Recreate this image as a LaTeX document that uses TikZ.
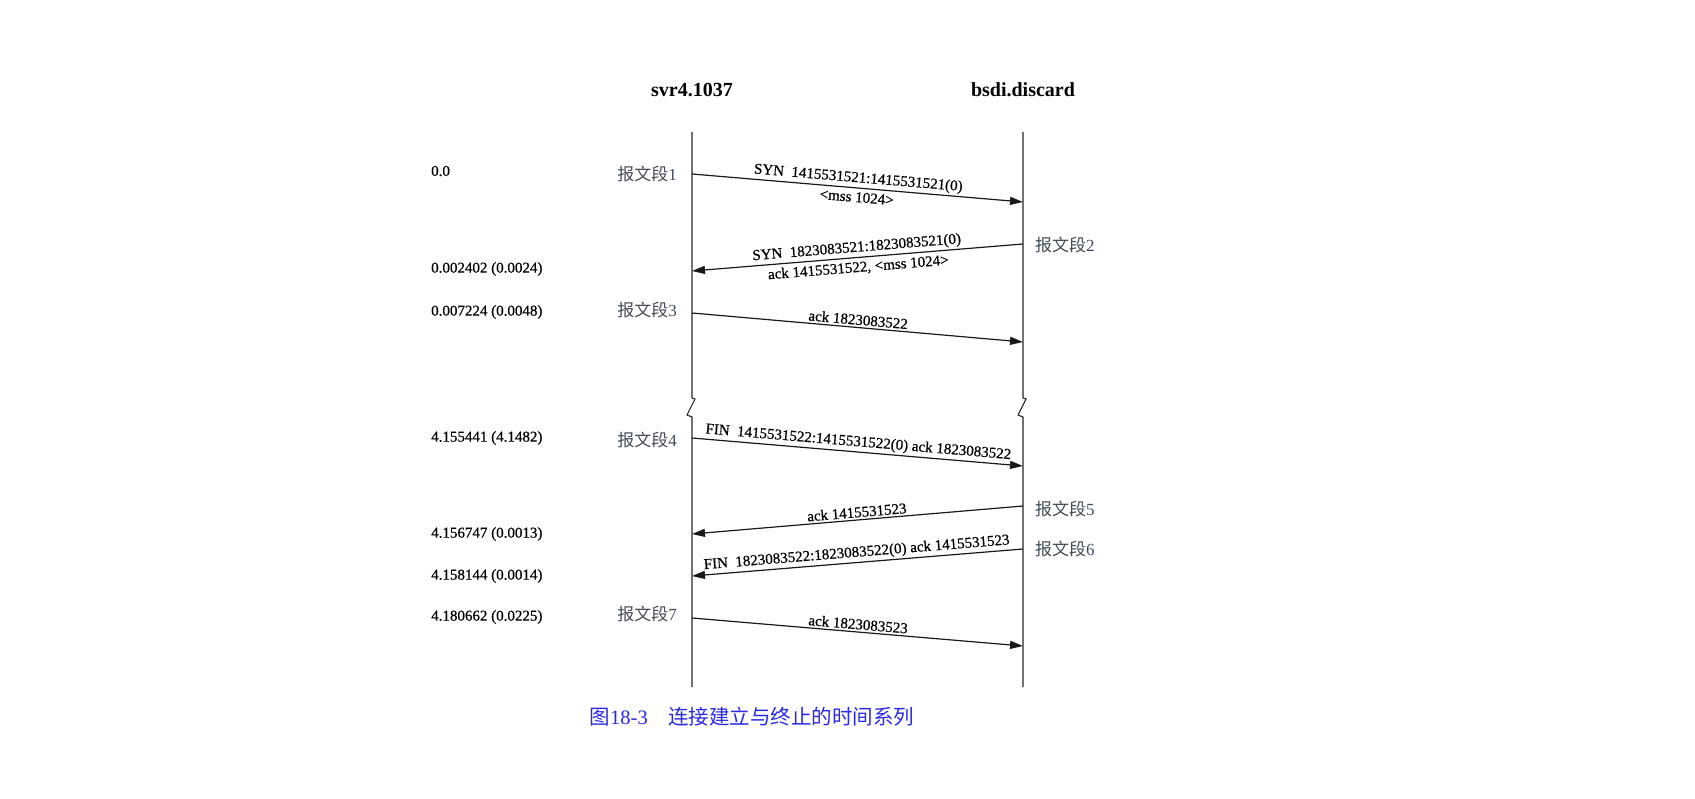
\documentclass[tikz,border=0pt]{standalone}
\usepackage{fontspec}
\setmainfont{Liberation Serif}
\newfontfamily\scanfont{Liberation Serif}[FakeBold=0.6]
\newfontfamily\cjk{Noto Sans CJK SC}
\usetikzlibrary{arrows.meta}
\definecolor{segc}{RGB}{66,74,88}
\definecolor{capc}{RGB}{40,40,235}

\begin{document}
\begin{tikzpicture}[
    x=1pt, y=-1pt,
    font=\fontsize{15}{17}\selectfont\scanfont,
    >={Triangle[length=13pt,width=8pt]},
    host/.style={font=\fontsize{20}{22}\selectfont\rmfamily\bfseries, inner sep=0pt},
    tstamp/.style={anchor=west, inner sep=0pt},
    seg/.style={font=\fontsize{17}{19}\selectfont\rmfamily, text=segc, inner sep=0pt},
    life/.style={line width=1.1pt, draw=black!85},
    msg/.style={->, line width=1.2pt, draw=black!90},
    mlbl/.style={sloped, inner sep=2pt},
    mlblb/.style={sloped, inner sep=3.5pt},
]
\useasboundingbox (0,0) rectangle (1695,799);

% ---- Hosts and lifelines -------------------------------------------
\node[host] (svr)  at (692,90)  {svr4.1037};
\node[host] (bsdi) at (1023,90) {bsdi.discard};

\coordinate (svrtop)  at (692,132);
\coordinate (svrbot)  at (692,687);
\coordinate (bsditop) at (1023,132);
\coordinate (bsdibot) at (1023,687);

\draw[life] (svrtop) -- ++(0,266) -- ++(3,1) -- ++(-8,16) -- ++(5,2) -- (svrbot);
\draw[life] (bsditop) -- ++(0,266) -- ++(3,1) -- ++(-8,16) -- ++(5,2) -- (bsdibot);

% ---- Time stamps ---------------------------------------------------
\node[tstamp] (t1) at (431,171) {0.0};
\node[tstamp] (t2) at (431,269) {0.002402 (0.0024)};
\node[tstamp] (t3) at (431,312) {0.007224 (0.0048)};
\node[tstamp] (t4) at (431,438) {4.155441 (4.1482)};
\node[tstamp] (t5) at (431,534) {4.156747 (0.0013)};
\node[tstamp] (t6) at (431,576) {4.158144 (0.0014)};
\node[tstamp] (t7) at (431,617) {4.180662 (0.0225)};

% ---- Segment labels ------------------------------------------------
\node[seg, anchor=east] (seg1) at (677,174) {{\cjk 报文段}1};
\node[seg, anchor=west] (seg2) at (1035,245) {{\cjk 报文段}2};
\node[seg, anchor=east] (seg3) at (677,310) {{\cjk 报文段}3};
\node[seg, anchor=east] (seg4) at (677,440) {{\cjk 报文段}4};
\node[seg, anchor=west] (seg5) at (1035,509) {{\cjk 报文段}5};
\node[seg, anchor=west] (seg6) at (1035,549) {{\cjk 报文段}6};
\node[seg, anchor=east] (seg7) at (677,614) {{\cjk 报文段}7};

% ---- Message end points --------------------------------------------
\coordinate (a1) at (692,174);  \coordinate (b1) at (1023,202);
\coordinate (b2) at (1023,244); \coordinate (a2) at (692,271);
\coordinate (a3) at (692,313);  \coordinate (b3) at (1023,342);
\coordinate (a4) at (692,438);  \coordinate (b4) at (1023,466);
\coordinate (b5) at (1023,506); \coordinate (a5) at (692,534);
\coordinate (b6) at (1023,549); \coordinate (a6) at (692,576);
\coordinate (a7) at (692,618);  \coordinate (b7) at (1023,646);

% ---- Messages ------------------------------------------------------
\draw[msg] (a1) -- (b1)
    node[mlbl, midway, above] {SYN\ \ 1415531521:1415531521(0)}
    node[mlblb, midway, below] {\textless mss 1024\textgreater};
\draw[msg] (b2) -- (a2)
    node[mlbl, midway, above] {SYN\ \ 1823083521:1823083521(0)}
    node[mlblb, midway, below] {ack 1415531522, \textless mss 1024\textgreater};
\draw[msg] (a3) -- (b3)
    node[mlbl, midway, above] {ack 1823083522};
\draw[msg] (a4) -- (b4)
    node[mlbl, midway, above] {FIN\ \ 1415531522:1415531522(0) ack 1823083522};
\draw[msg] (b5) -- (a5)
    node[mlbl, midway, above] {ack 1415531523};
\draw[msg] (b6) -- (a6)
    node[mlbl, midway, above] {FIN\ \ 1823083522:1823083522(0) ack 1415531523};
\draw[msg] (a7) -- (b7)
    node[mlbl, midway, above] {ack 1823083523};

% ---- Caption -------------------------------------------------------
\node[font=\fontsize{20.5}{22}\selectfont\rmfamily, text=capc] (cap) at (752,717)
    {{\cjk 图}18-3\quad{\cjk 连接建立与终止的时间系列}};

\end{tikzpicture}
\end{document}
